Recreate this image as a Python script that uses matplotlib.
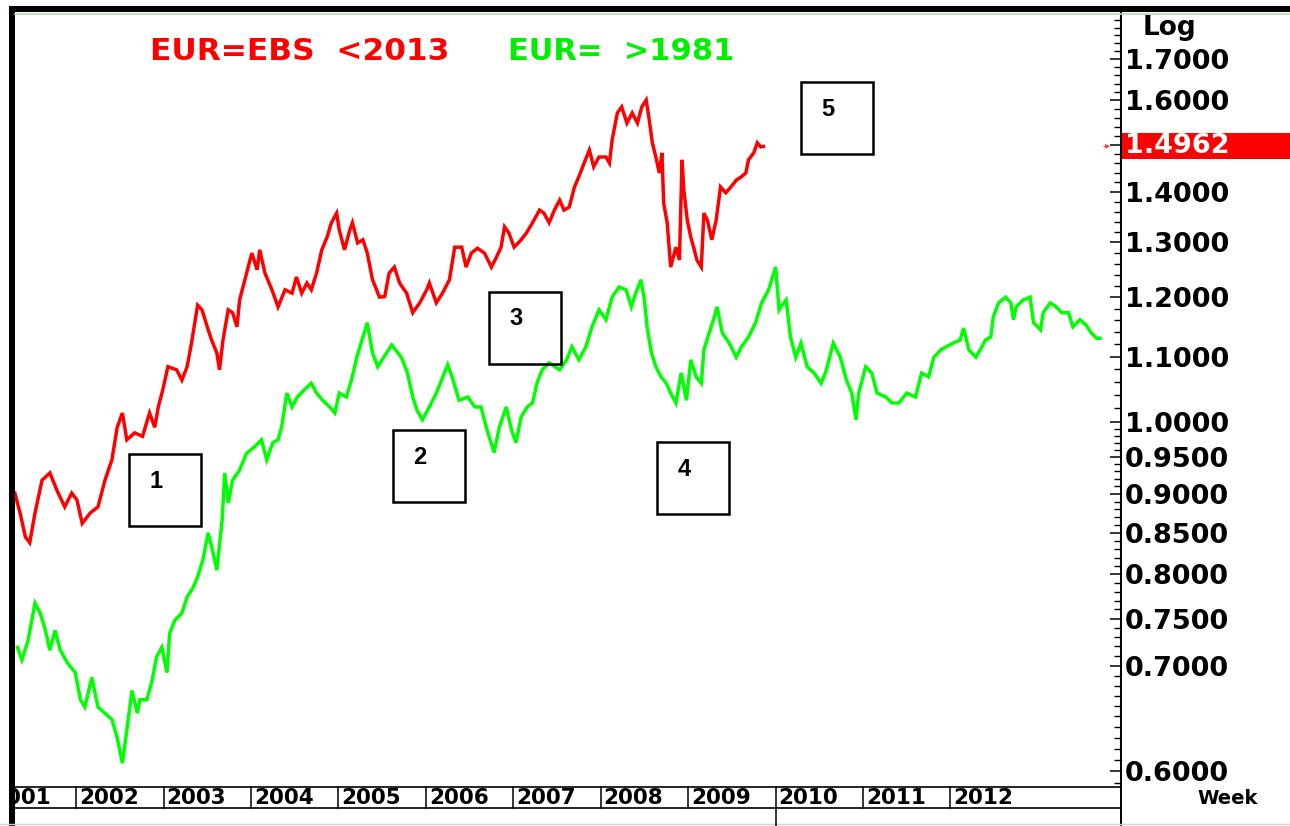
import matplotlib
matplotlib.use("Agg")
import matplotlib.pyplot as plt
import matplotlib.ticker as mticker
import matplotlib.transforms as mtrans
from matplotlib.lines import Line2D
from matplotlib.patches import Rectangle
import numpy as np

# ---------------- data ----------------
red_year = [2001.30, 2001.36, 2001.42, 2001.47, 2001.53, 2001.61, 2001.70, 2001.78, 2001.87, 2001.95,
            2002.01, 2002.07, 2002.16, 2002.25, 2002.33, 2002.41, 2002.47, 2002.53, 2002.58, 2002.67,
            2002.76, 2002.84, 2002.90, 2002.94, 2002.99, 2003.05, 2003.15, 2003.21, 2003.27, 2003.32,
            2003.39, 2003.44, 2003.50, 2003.55, 2003.61, 2003.64, 2003.68, 2003.74, 2003.79, 2003.84,
            2003.87, 2003.95, 2004.01, 2004.07, 2004.10, 2004.16, 2004.24, 2004.31, 2004.39, 2004.47,
            2004.52, 2004.58, 2004.64, 2004.69, 2004.75, 2004.81, 2004.87, 2004.92, 2004.98, 2005.01,
            2005.07, 2005.13, 2005.16, 2005.22, 2005.28, 2005.33, 2005.39, 2005.47, 2005.53, 2005.58,
            2005.64, 2005.70, 2005.78, 2005.85, 2005.93, 2006.01, 2006.04, 2006.12, 2006.19, 2006.27,
            2006.33, 2006.41, 2006.46, 2006.52, 2006.59, 2006.67, 2006.75, 2006.81, 2006.86, 2006.90,
            2006.95, 2007.01, 2007.09, 2007.15, 2007.22, 2007.30, 2007.35, 2007.41, 2007.47, 2007.53,
            2007.58, 2007.64, 2007.70, 2007.75, 2007.81, 2007.87, 2007.92, 2007.98, 2008.06, 2008.10,
            2008.13, 2008.19, 2008.24, 2008.30, 2008.36, 2008.42, 2008.47, 2008.52, 2008.55, 2008.59,
            2008.63, 2008.67, 2008.70, 2008.72, 2008.76, 2008.80, 2008.86, 2008.90, 2008.93, 2008.95,
            2008.99, 2009.03, 2009.07, 2009.10, 2009.15, 2009.18, 2009.22, 2009.27, 2009.32, 2009.37,
            2009.43, 2009.49, 2009.55, 2009.60, 2009.66, 2009.69, 2009.75, 2009.79, 2009.83, 2009.86]
red_val = [0.901, 0.875, 0.845, 0.838, 0.875, 0.918, 0.928, 0.905, 0.883, 0.901,
           0.892, 0.862, 0.875, 0.883, 0.918, 0.946, 0.992, 1.013, 0.974, 0.984,
           0.979, 1.013, 0.992, 1.022, 1.047, 1.084, 1.079, 1.063, 1.084, 1.122,
           1.186, 1.178, 1.149, 1.127, 1.106, 1.079, 1.127, 1.178, 1.173, 1.149,
           1.195, 1.243, 1.280, 1.249, 1.286, 1.243, 1.213, 1.183, 1.213, 1.207,
           1.236, 1.207, 1.225, 1.213, 1.243, 1.286, 1.310, 1.338, 1.357, 1.324,
           1.286, 1.324, 1.338, 1.299, 1.305, 1.280, 1.231, 1.200, 1.201, 1.243,
           1.254, 1.225, 1.207, 1.173, 1.190, 1.213, 1.225, 1.190, 1.207, 1.231,
           1.291, 1.291, 1.254, 1.280, 1.289, 1.280, 1.254, 1.273, 1.291, 1.330,
           1.318, 1.291, 1.305, 1.318, 1.338, 1.363, 1.357, 1.338, 1.363, 1.383,
           1.363, 1.369, 1.410, 1.431, 1.460, 1.488, 1.452, 1.473, 1.473, 1.460,
           1.510, 1.571, 1.585, 1.548, 1.571, 1.548, 1.585, 1.601, 1.562, 1.504,
           1.473, 1.439, 1.482, 1.377, 1.338, 1.254, 1.291, 1.267, 1.467, 1.404,
           1.343, 1.310, 1.286, 1.267, 1.254, 1.357, 1.343, 1.305, 1.343, 1.410,
           1.398, 1.410, 1.424, 1.430, 1.439, 1.467, 1.482, 1.504, 1.495, 1.496]

green_year = [2001.33, 2001.38, 2001.45, 2001.53, 2001.59, 2001.65, 2001.70, 2001.76, 2001.82, 2001.90,
              2001.99, 2002.05, 2002.10, 2002.18, 2002.25, 2002.33, 2002.41, 2002.47, 2002.53, 2002.58,
              2002.64, 2002.70, 2002.73, 2002.81, 2002.87, 2002.92, 2002.98, 2003.04, 2003.07, 2003.13,
              2003.21, 2003.27, 2003.34, 2003.39, 2003.45, 2003.51, 2003.56, 2003.61, 2003.67, 2003.70,
              2003.74, 2003.79, 2003.87, 2003.95, 2004.04, 2004.12, 2004.18, 2004.25, 2004.31, 2004.35,
              2004.41, 2004.47, 2004.53, 2004.61, 2004.69, 2004.75, 2004.82, 2004.90, 2004.96, 2005.01,
              2005.09, 2005.15, 2005.21, 2005.33, 2005.39, 2005.45, 2005.55, 2005.61, 2005.72, 2005.79,
              2005.85, 2005.90, 2005.96, 2006.04, 2006.12, 2006.18, 2006.25, 2006.30, 2006.38, 2006.48,
              2006.56, 2006.63, 2006.70, 2006.78, 2006.84, 2006.92, 2006.98, 2007.03, 2007.09, 2007.16,
              2007.22, 2007.27, 2007.33, 2007.41, 2007.53, 2007.61, 2007.67, 2007.75, 2007.83, 2007.90,
              2007.98, 2008.06, 2008.13, 2008.21, 2008.29, 2008.35, 2008.40, 2008.46, 2008.50, 2008.53,
              2008.58, 2008.63, 2008.69, 2008.75, 2008.80, 2008.86, 2008.92, 2008.98, 2009.03, 2009.09,
              2009.15, 2009.18, 2009.24, 2009.29, 2009.33, 2009.39, 2009.47, 2009.55, 2009.61, 2009.69,
              2009.77, 2009.84, 2009.92, 2010.00, 2010.04, 2010.06, 2010.12, 2010.17, 2010.23, 2010.29,
              2010.36, 2010.44, 2010.52, 2010.57, 2010.66, 2010.74, 2010.81, 2010.87, 2010.92, 2010.95,
              2011.03, 2011.10, 2011.16, 2011.26, 2011.33, 2011.41, 2011.50, 2011.60, 2011.67, 2011.75,
              2011.81, 2011.89, 2011.95, 2012.03, 2012.11, 2012.15, 2012.21, 2012.29, 2012.34, 2012.40,
              2012.46, 2012.49, 2012.55, 2012.63, 2012.69, 2012.72, 2012.75, 2012.83, 2012.91, 2012.95,
              2013.03, 2013.06, 2013.14, 2013.21, 2013.27, 2013.35, 2013.40, 2013.48, 2013.55, 2013.61,
              2013.67, 2013.71]
green_val = [0.719, 0.706, 0.726, 0.767, 0.756, 0.737, 0.716, 0.737, 0.716, 0.703,
             0.693, 0.666, 0.659, 0.688, 0.659, 0.653, 0.647, 0.630, 0.607, 0.637,
             0.675, 0.653, 0.666, 0.666, 0.685, 0.709, 0.719, 0.693, 0.734, 0.748,
             0.756, 0.774, 0.785, 0.797, 0.817, 0.850, 0.829, 0.805, 0.866, 0.928,
             0.888, 0.918, 0.932, 0.955, 0.964, 0.974, 0.946, 0.970, 0.974, 0.992,
             1.043, 1.022, 1.037, 1.048, 1.058, 1.043, 1.032, 1.022, 1.013, 1.043,
             1.037, 1.063, 1.099, 1.156, 1.106, 1.084, 1.106, 1.119, 1.099, 1.074,
             1.037, 1.017, 1.003, 1.022, 1.043, 1.063, 1.087, 1.068, 1.032, 1.037,
             1.022, 1.022, 0.988, 0.956, 0.992, 1.022, 0.988, 0.970, 1.007, 1.022,
             1.028, 1.058, 1.079, 1.090, 1.079, 1.095, 1.116, 1.095, 1.116, 1.149,
             1.178, 1.161, 1.200, 1.218, 1.213, 1.183, 1.207, 1.231, 1.195, 1.149,
             1.106, 1.084, 1.068, 1.058, 1.043, 1.028, 1.074, 1.032, 1.095, 1.068,
             1.058, 1.111, 1.139, 1.161, 1.183, 1.139, 1.122, 1.099, 1.116, 1.132,
             1.156, 1.190, 1.213, 1.254, 1.178, 1.183, 1.195, 1.132, 1.099, 1.122,
             1.084, 1.074, 1.058, 1.074, 1.122, 1.099, 1.063, 1.043, 1.003, 1.043,
             1.084, 1.074, 1.043, 1.037, 1.028, 1.028, 1.043, 1.037, 1.074, 1.068,
             1.099, 1.111, 1.116, 1.122, 1.127, 1.147, 1.111, 1.099, 1.111, 1.127,
             1.132, 1.166, 1.190, 1.200, 1.190, 1.161, 1.183, 1.195, 1.200, 1.156,
             1.144, 1.173, 1.190, 1.183, 1.173, 1.173, 1.149, 1.161, 1.152, 1.139,
             1.130, 1.130]

year_labels = [2001, 2002, 2003, 2004, 2005, 2006, 2007, 2008, 2009, 2010, 2011, 2012]
major_ticks = [0.60, 0.70, 0.75, 0.80, 0.85, 0.90, 0.95, 1.00, 1.10, 1.20, 1.30, 1.40, 1.50, 1.60, 1.70]
last_value = 1.4962
legend_red = "EUR=EBS  <2013"
legend_green = "EUR=  >1981"
box_numbers = ["1", "2", "3", "4", "5"]

# ---------------- layout ----------------
W, H = 1290, 826
fig = plt.figure(figsize=(W / 100, H / 100), dpi=100)
fig.patch.set_facecolor("white")


def fx(px):
    return px / W


def fy(py):
    return 1 - py / H


L, R, T, B = 14, 1121, 14, 787
ax = fig.add_axes([fx(L), fy(B), (R - L) / W, (B - T) / H])
ax.set_facecolor("white")
ax.set_yscale("log")
ax.set_xlim(2001.29, 2013.95)
ax.set_ylim(0.5862, 1.8157)

ax.plot(green_year, green_val, color="#00ff00", lw=2.5, solid_joinstyle="miter", zorder=3)
ax.plot(red_year, red_val, color="#ff0000", lw=2.5, solid_joinstyle="miter", zorder=4)

for s in ["left", "top", "bottom", "right"]:
    ax.spines[s].set_visible(False)
ax.set_xticks([])

# right log axis
minor = [round(v, 2) for v in np.arange(0.59, 1.0, 0.01)] + [round(v, 2) for v in np.arange(1.0, 1.82, 0.02)]
minor = [v for v in minor if v not in major_ticks]
ax.yaxis.tick_right()
ax.yaxis.set_major_locator(mticker.FixedLocator(major_ticks))
ax.yaxis.set_minor_locator(mticker.FixedLocator(minor))
ax.yaxis.set_major_formatter(
    mticker.FuncFormatter(lambda v, p: "" if abs(v - 1.5) < 1e-9 else f"{v:.4f}"))
ax.yaxis.set_minor_formatter(mticker.NullFormatter())
ax.tick_params(axis="y", which="major", direction="in", length=8, width=1.1,
               right=True, left=False, pad=3, labelsize=19.5, labelcolor="black")
ax.tick_params(axis="y", which="minor", direction="in", length=5, width=1.0,
               right=True, left=False)
for lab in ax.get_yticklabels():
    lab.set_fontweight("bold")
    lab.set_fontfamily("DejaVu Sans")

# right axis line
fig.add_artist(Line2D([fx(R), fx(R)], [fy(12), fy(826)], color="black", lw=1.4))

# frame: top black bar, left black bar, pale line
fig.add_artist(Rectangle((fx(9), fy(12)), (W - 9) / W, 6 / H, color="black", lw=0))
fig.add_artist(Rectangle((fx(9), 0), 6 / W, fy(6), color="black", lw=0))
fig.add_artist(Line2D([fx(15), 1], [fy(14), fy(14)], color="#b5dcb5", lw=1.2))

# x band
band_top, band_bot = 787, 808
fig.add_artist(Line2D([fx(15), fx(R)], [fy(band_top)] * 2, color="black", lw=1.2))
fig.add_artist(Line2D([fx(15), fx(R)], [fy(band_bot)] * 2, color="black", lw=1.2))
fig.add_artist(Line2D([0, 1], [fy(824)] * 2, color="#d4d4d4", lw=1.0))
blend = mtrans.blended_transform_factory(ax.transData, fig.transFigure)
clip = mtrans.Bbox.from_extents(15, 0, R, H)
for yr in year_labels:
    ln = Line2D([yr, yr], [fy(band_bot), fy(band_top)], color="black", lw=1.1,
                transform=blend)
    ln.set_clip_box(clip)
    fig.add_artist(ln)
    t = fig.text(yr, fy(798), str(yr), transform=blend + mtrans.ScaledTranslation(3 / 100, 0, fig.dpi_scale_trans),
                 ha="left", va="center", fontsize=15.5, fontweight="bold", family="DejaVu Sans")
    t.set_clip_box(clip)
    t.set_clip_on(True)
# marker line below band at 2010
fig.add_artist(Line2D([2010, 2010], [0, fy(band_bot)], color="black", lw=1.1, transform=blend))

# texts
fig.text(fx(150), fy(52), legend_red, color="#ff0000", fontsize=22.5, fontweight="bold",
         family="DejaVu Sans", ha="left", va="center")
fig.text(fx(508), fy(52), legend_green, color="#00ee00", fontsize=22, fontweight="bold",
         family="DejaVu Sans", ha="left", va="center")
fig.text(fx(1143), fy(28), "Log", fontsize=19, fontweight="bold", family="DejaVu Sans",
         ha="left", va="center")
fig.text(fx(1197), fy(798), "Week", fontsize=14, fontweight="bold", family="DejaVu Sans",
         ha="left", va="center")

# last value tag
ypix = ax.transData.transform((2005, last_value))[1]
tag_h = 26
fig.add_artist(Rectangle((fx(1122), (ypix - tag_h / 2) / H), (W - 1122) / W, tag_h / H,
                         color="#ff0000", lw=0, zorder=5))
fig.text(fx(1125), ypix / H, f"{last_value:.4f}", color="white", fontsize=19.5, fontweight="bold",
         family="DejaVu Sans", ha="left", va="center", zorder=6)
yblend = mtrans.blended_transform_factory(fig.transFigure, ax.transData)
ax.annotate("", xy=(fx(1113), last_value), xytext=(fx(1101), last_value),
            xycoords=yblend, textcoords=yblend,
            arrowprops=dict(arrowstyle="-|>", color="#ff4040", lw=0.8, mutation_scale=6))

# numbered boxes
boxes = [(129, 454), (393, 430), (489, 292), (657, 442), (801, 82)]
for num, (bx, by) in zip(box_numbers, boxes):
    fig.add_artist(Rectangle((fx(bx), fy(by + 72)), 72 / W, 72 / H, fill=False,
                             edgecolor="black", lw=1.8, zorder=7))
    fig.text(fx(bx + 27), fy(by + 27), num, fontsize=17, fontweight="bold",
             family="Liberation Sans", ha="center", va="center", zorder=8)

fig.savefig("out.png", dpi=100, facecolor="white")
